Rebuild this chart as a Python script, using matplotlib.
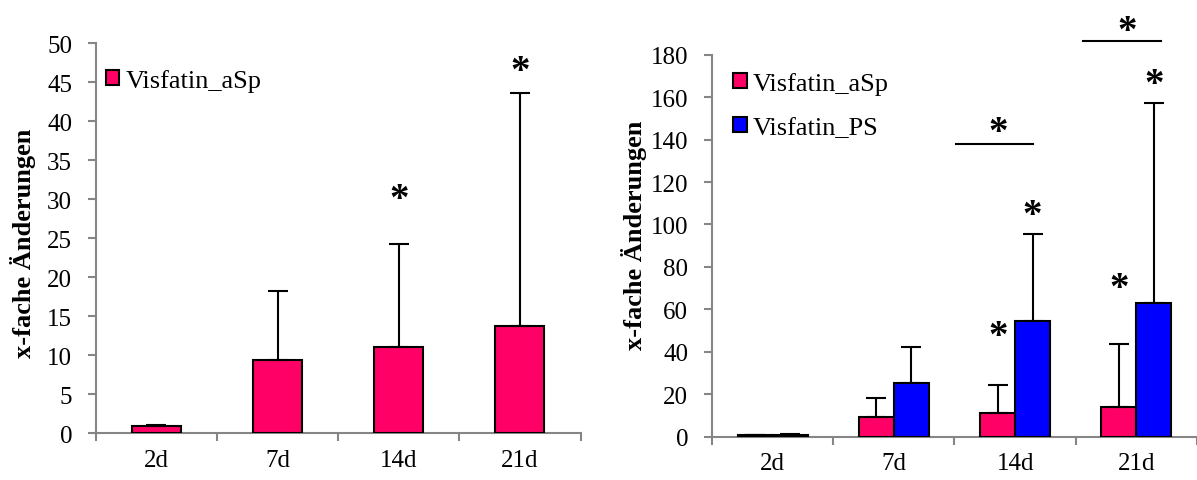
import numpy as np
import matplotlib
matplotlib.use("Agg")
import matplotlib.pyplot as plt
from matplotlib.ticker import FixedLocator

plt.rcParams['font.family'] = ['Liberation Serif', 'DejaVu Serif']

# data
categories = ['2d', '7d', '14d', '21d']
asp_mean = [0.9, 9.4, 11.1, 13.8]
asp_sd = [0.1, 8.9, 13.2, 29.8]
ps_mean = [0.9, 25.2, 54.5, 62.8]
ps_sd = [0.2, 17.0, 40.8, 94.3]

# significance stars (category index, y)
left_stars = [(2, 31.2), (3, 47.7)]
right_star_asp = [(2, 51.7), (3, 74.5)]
right_star_ps = [(2, 109.0), (3, 170.5)]
# brackets: x start, x end, y, star x, star y
brackets = [(1.51, 2.15, 137.7, 1.86, 148.0), (2.56, 3.2, 186.6, 2.92, 195.7)]

pink = '#FF0066'
blue = '#0000FF'
grey = '#868686'

fig = plt.figure(figsize=(11.97, 4.81), dpi=100)
ax1 = fig.add_axes([0.0800, 0.0971, 0.4050, 0.8108])
ax2 = fig.add_axes([0.5948, 0.0900, 0.4052, 0.7942])

x = np.arange(len(categories))


def style_axis(ax, ymax, ystep):
    ax.set_xlim(-0.5, len(categories) - 0.5)
    ax.set_ylim(0, ymax)
    ax.set_yticks(np.arange(0, ymax + 1, ystep))
    for s in ['top', 'right']:
        ax.spines[s].set_visible(False)
    for s in ['left', 'bottom']:
        ax.spines[s].set_color(grey)
        ax.spines[s].set_linewidth(1.5)
    ax.set_xticks(x)
    ax.set_xticklabels(categories)
    ax.xaxis.set_minor_locator(FixedLocator(np.arange(-0.5, len(categories), 1.0)))
    ax.tick_params(axis='x', which='major', length=0, pad=11, labelsize=18)
    ax.tick_params(axis='x', which='minor', length=6, width=1.5, color=grey)
    ax.tick_params(axis='y', length=6, width=1.5, color=grey, pad=11, labelsize=18)


def star(ax, xpos, ypos):
    ax.annotate('*', (xpos, ypos), xytext=(0, -14), textcoords='offset points',
                ha='center', va='baseline', fontsize=28, fontweight='bold',
                annotation_clip=False)


err_kw = dict(ecolor='black', elinewidth=1.5, capsize=7.5, capthick=1.5)
leg_kw = dict(loc='upper left', frameon=False, fontsize=19, handlelength=0.5,
              handleheight=0.5, handletextpad=0.25, borderpad=0, borderaxespad=0)

# left chart
w1 = 0.405
ax1.bar(x, asp_mean, w1, color=pink, edgecolor='black', linewidth=1.5,
        yerr=[np.zeros(4), asp_sd], error_kw=err_kw, label='Visfatin_aSp', zorder=3)
style_axis(ax1, 50, 5)
ax1.set_ylabel('x-fache Änderungen', fontsize=19, fontweight='bold')
ax1.yaxis.set_label_coords(-0.1227, 0.49)
for xi, yi in left_stars:
    star(ax1, xi, yi)
ax1.legend(bbox_to_anchor=(0.0217, 0.935), **leg_kw)

# right chart
w2 = 0.288
ax2.bar(x - w2 / 2, asp_mean, w2, color=pink, edgecolor='black', linewidth=1.5,
        yerr=[np.zeros(4), asp_sd], error_kw=err_kw, label='Visfatin_aSp', zorder=3)
ax2.bar(x + w2 / 2, ps_mean, w2, color=blue, edgecolor='black', linewidth=1.5,
        yerr=[np.zeros(4), ps_sd], error_kw=err_kw, label='Visfatin_PS', zorder=3)
style_axis(ax2, 180, 20)
ax2.set_ylabel('x-fache Änderungen', fontsize=19, fontweight='bold')
ax2.yaxis.set_label_coords(-0.133, 0.53)
for xi, yi in right_star_asp:
    star(ax2, xi - w2 / 2, yi)
for xi, yi in right_star_ps:
    star(ax2, xi + w2 / 2, yi)
for x0, x1, yb, xs, ys in brackets:
    ax2.plot([x0, x1], [yb, yb], color='black', linewidth=1.5, clip_on=False)
    star(ax2, xs, ys)
ax2.legend(bbox_to_anchor=(0.044, 0.955), labelspacing=0.85, **leg_kw)

fig.savefig('out.png', dpi=100)
